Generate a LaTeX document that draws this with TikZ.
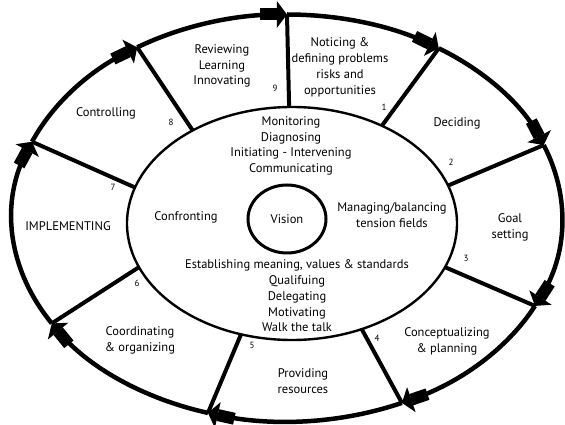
\documentclass[tikz,border=0pt]{standalone}
\usepackage{fontspec}
\setmainfont{PT Sans}
\usetikzlibrary{arrows.meta,shapes.geometric}

\tikzstyle{rim}=[line width=4.5pt]
\tikzstyle{rim arrow}=[rim,-{Rectangle[length=17pt,width=12pt]Triangle[length=10pt,width=26pt]}]
\tikzstyle{spoke}=[line width=4pt]
\tikzstyle{hub}=[line width=2.4pt]
\tikzstyle{vision}=[ellipse,draw,line width=3pt,minimum width=78pt,minimum height=68pt,inner sep=0pt]
\tikzstyle{activity}=[font=\fontsize{12.5}{15.8}\selectfont,align=center]
\tikzstyle{stage number}=[font=\fontsize{9}{10}\selectfont]

\begin{document}
\begin{tikzpicture}[x=1pt,y=1pt]
    \useasboundingbox (-287,-207) rectangle (278,218);
    % Points where each spoke meets the hub (i) and the rim (o)
    \foreach \name/\ain/\aout in {9/91/90,1/57/56.5,2/19/21,3/-22/-25.6,4/-65/-65.3,
        5/-108/-106.7,6/-158/-148.8,7/162/158,8/127/123}
    {
    \coordinate (i\name) at ([shift={(5,-5.5)}]\ain:165 and 116.5);
    \coordinate (o\name) at (\aout:275 and 203.5);
    }
    % Hub and vision in the middle
    \draw[hub] (5,-5.5) ellipse [x radius=165, y radius=116.5];
    \node[vision, activity] (vision) at (0,-1) {Vision};
    % Spokes between the stages
    \foreach \name in {1,...,9}
    \draw[spoke] (i\name) -- (o\name);
    % Rim: one arrow per stage, clockwise
    \foreach \from/\a/\b in {9/90/56.5,1/56.5/21,2/21/-25.6,3/-25.6/-65.3,4/-65.3/-106.7,
        5/-106.7/-148.8,6/-148.8/-202,7/-202/-237,8/-237/-270}
    \draw[rim arrow] (o\from) arc[start angle=\a, end angle=\b, x radius=275, y radius=203.5];
    % Stages on the rim
    \node[activity] (reviewing) at (-65,152) {Reviewing\\Learning\\Innovating};
    \node[activity] (noticing) at (53,150.5) {Noticing \&\\defining problems\\risks and\\opportunities};
    \node[activity] (deciding) at (170,95) {Deciding};
    \node[activity] (goal) at (223,-9) {Goal\\setting};
    \node[activity] (planning) at (160,-123) {Conceptualizing\\\& planning};
    \node[activity] (resources) at (16,-163) {Providing\\resources};
    \node[activity] (organizing) at (-147,-122) {Coordinating\\\& organizing};
    \node[activity] (implementing) at (-219,-8) {IMPLEMENTING};
    \node[activity] (controlling) at (-181,105) {Controlling};
    % Tasks inside the hub
    \node[activity] (monitoring) at (4,72) {Monitoring\\Diagnosing\\Initiating - Intervening\\Communicating};
    \node[activity] (confronting) at (-101,1) {Confronting};
    \node[activity] (managing) at (105,2.5) {Managing/balancing\\tension fields};
    \node[activity] (establishing) at (10,-78) {Establishing meaning, values \& standards\\Qualifuing\\Delegating\\Motivating\\Walk the talk};
    % Stage numbers
    \foreach \pos/\name in {{(97,111)/1},{(164,56)/2},{(179,-40)/3},{(90,-120)/4},{(-35,-127)/5},
        {(-150,-65)/6},{(-174,31)/7},{(-116,96)/8},{(-12,130)/9}}
    \node[stage number] (n\name) at \pos {\name};
\end{tikzpicture}
\end{document}
